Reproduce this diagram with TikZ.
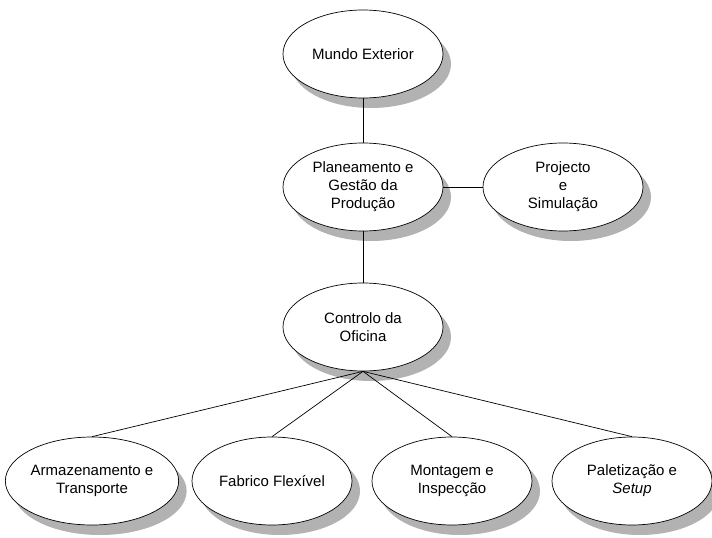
\documentclass[tikz,border=0pt]{standalone}
\usepackage{fontspec}
\setmainfont{Liberation Sans}
\usetikzlibrary{shapes.geometric,shadows}
\tikzset{
  oval/.style={ellipse, draw=black, line width=0.7pt, fill=white,
    minimum width=160pt, minimum height=88pt, inner sep=0pt, align=center,
    font=\fontsize{15}{18}\selectfont,
    drop shadow={shadow xshift=8pt, shadow yshift=-10pt, fill=black!30, opacity=1}},
  link/.style={draw=black, line width=0.7pt}
}
\begin{document}
\begin{tikzpicture}[x=1pt,y=-1pt]
\useasboundingbox (0,0) rectangle (712,538);
\node[oval] (mundo) at (363,54) {Mundo Exterior};
\node[oval] (plan) at (363,187) {Planeamento e\\Gestão da\\Produção};
\node[oval] (proj) at (563,187) {Projecto\\e\\Simulação};
\node[oval] (ctrl) at (363,327) {Controlo da\\Oficina};
\node[oval] (arm) at (92,481) {Armazenamento e\\Transporte};
\node[oval] (fab) at (272,481) {Fabrico Flexível};
\node[oval] (mon) at (452,481) {Montagem e\\Inspecção};
\node[oval] (pal) at (632,481) {Paletização e\\\textit{Setup}};
\draw[link] (mundo.south) -- (plan.north);
\draw[link] (plan.east) -- (proj.west);
\draw[link] (plan.south) -- (ctrl.north);
\draw[link] (ctrl.south) -- (arm.north);
\draw[link] (ctrl.south) -- (fab.north);
\draw[link] (ctrl.south) -- (mon.north);
\draw[link] (ctrl.south) -- (pal.north);
\end{tikzpicture}
\end{document}
